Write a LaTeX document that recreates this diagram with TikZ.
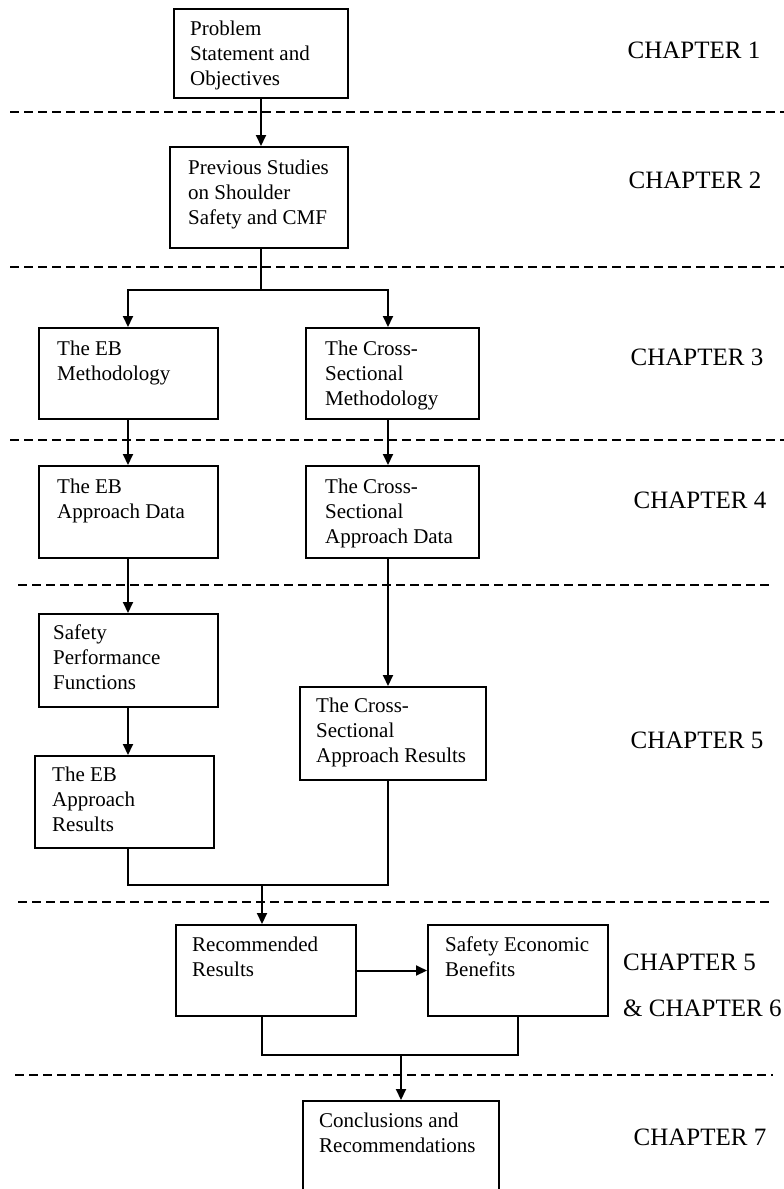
\documentclass[tikz,border=0pt]{standalone}
\usepackage{fontspec}
\setmainfont{Liberation Serif}
\usetikzlibrary{arrows.meta,calc}
\begin{document}
\begin{tikzpicture}[x=1pt,y=-1pt,
  box/.style={draw, line width=2pt, inner sep=0pt, rectangle},
  txt/.style={anchor=north west, align=left, inner sep=0pt, font=\fontsize{21}{25}\selectfont},
  chap/.style={inner sep=0pt, font=\fontsize{25}{30}\selectfont},
  conn/.style={line width=2pt},
  arr/.style={conn, -{Triangle[length=11pt,width=10pt]}},
  sep/.style={line width=2.2pt, dash pattern=on 9pt off 5pt}]
\useasboundingbox (0,0) rectangle (784,1189);
\clip (0,0) rectangle (784,1189);
\fill[white] (0,0) rectangle (784,1189);

% separators
\draw[sep] (10,112) -- (784,112);
\draw[sep] (10,267) -- (784,267);
\draw[sep] (10,440) -- (784,440);
\draw[sep] (18,585) -- (773,585);
\draw[sep] (18,902) -- (773,902);
\draw[sep] (15,1075) -- (773,1075);

% boxes
\node[box, minimum width=174, minimum height=89]  (prob) at (261,53.5) {};
\node[box, minimum width=178, minimum height=101] (prev) at (259,197.5) {};
\node[box, minimum width=179, minimum height=91]  (ebm)  at (128.5,373.5) {};
\node[box, minimum width=173, minimum height=91]  (csm)  at (392.5,373.5) {};
\node[box, minimum width=179, minimum height=92]  (ebd)  at (128.5,512) {};
\node[box, minimum width=173, minimum height=92]  (csd)  at (392.5,512) {};
\node[box, minimum width=179, minimum height=93]  (spf)  at (128.5,660.5) {};
\node[box, minimum width=179, minimum height=92]  (ebr)  at (124.5,802) {};
\node[box, minimum width=186, minimum height=93]  (csr)  at (393,733.5) {};
\node[box, minimum width=180, minimum height=91]  (rec)  at (266,970.5) {};
\node[box, minimum width=180, minimum height=91]  (sec)  at (518,970.5) {};
\node[box, minimum width=196, minimum height=119] (con)  at (401,1160.5) {};

% box texts
\node[txt] (probt) at (190,21)  {Problem\\Statement and\\Objectives};
\node[txt] (prevt) at (188,160) {Previous Studies\\on Shoulder\\Safety and CMF};
\node[txt] (ebmt)  at (57,341)  {The EB\\Methodology};
\node[txt] (csmt)  at (325,341) {The Cross-\\Sectional\\Methodology};
\node[txt] (ebdt)  at (57,479)  {The EB\\Approach Data};
\node[txt] (csdt)  at (325,479) {The Cross-\\Sectional\\Approach Data};
\node[txt] (spft)  at (53,625)  {Safety\\Performance\\Functions};
\node[txt] (ebrt)  at (52,767)  {The EB\\Approach\\Results};
\node[txt] (csrt)  at (316,698) {The Cross-\\Sectional\\Approach Results};
\node[txt] (rect)  at (192,937) {Recommended\\Results};
\node[txt] (sect)  at (445,937) {Safety Economic\\Benefits};
\node[txt] (cont)  at (319,1113) {Conclusions and\\Recommendations};

% chapter labels
\node[chap] (c1) at (694,50)  {CHAPTER 1};
\node[chap] (c2) at (695,180) {CHAPTER 2};
\node[chap] (c3) at (697,357) {CHAPTER 3};
\node[chap] (c4) at (700,500) {CHAPTER 4};
\node[chap] (c5) at (697,740) {CHAPTER 5};
\node[chap, anchor=west] (c5b) at (623,962)  {CHAPTER 5};
\node[chap, anchor=west] (c6)  at (623,1008) {\& CHAPTER 6};
\node[chap] (c7) at (700,1137) {CHAPTER 7};

% helper coordinates
\coordinate (colL) at (128,0);
\coordinate (colR) at (388,0);
\coordinate (split) at (261,290);
\coordinate (merge1) at (262,885);
\coordinate (merge2) at (401,1055);

% connectors
\draw[arr] (prob.south) -- (prob.south |- prev.north);
\draw[conn] (split |- prev.south) -- (split);
\draw[arr] (split) -| (colL |- ebm.north);
\draw[arr] (split) -| (colR |- csm.north);
\draw[arr] (colL |- ebm.south) -- (colL |- ebd.north);
\draw[arr] (colR |- csm.south) -- (colR |- csd.north);
\draw[arr] (colL |- ebd.south) -- (colL |- spf.north);
\draw[arr] (colR |- csd.south) -- (colR |- csr.north);
\draw[arr] (colL |- spf.south) -- (colL |- ebr.north);
\draw[conn] (colL |- ebr.south) -- (colL |- merge1) -- (colR |- merge1) -- (colR |- csr.south);
\draw[arr] (merge1) -- (merge1 |- rec.north);
\draw[arr] (rec.east) -- (sec.west);
\draw[conn] (merge1 |- rec.south) |- (sec.south |- merge2) -- (sec.south);
\draw[arr] (merge2) -- (con.north);
\end{tikzpicture}
\end{document}
